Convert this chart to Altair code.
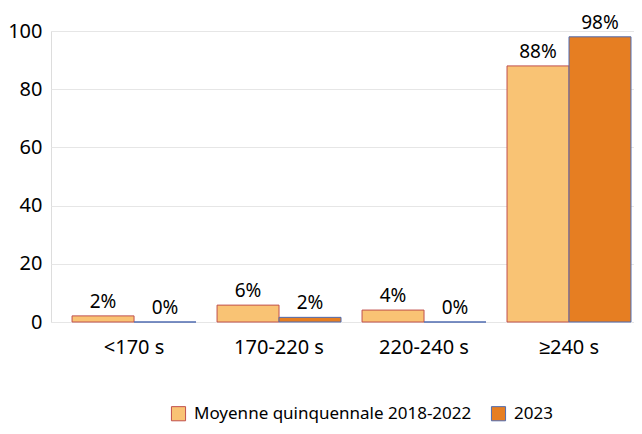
import altair as alt
import pandas as pd

categories = ["<170 s", "170-220 s", "220-240 s", "≥240 s"]
series = ["Moyenne quinquennale 2018-2022", "2023"]
avg_values = [2.1, 5.8, 4.1, 88]
y2023_values = [0.0, 1.6, 0.0, 98]
avg_labels = ["2%", "6%", "4%", "88%"]
y2023_labels = ["0%", "2%", "0%", "98%"]
fill_colors = ["#F9C374", "#E67E22"]
stroke_colors = ["#C0504D", "#4F6BB0"]

rows = []
for c, v, l in zip(categories, avg_values, avg_labels):
    rows.append({"cat": c, "series": series[0], "value": v, "label": l})
for c, v, l in zip(categories, y2023_values, y2023_labels):
    rows.append({"cat": c, "series": series[1], "value": v, "label": l})
df = pd.DataFrame(rows)

FONT = "Segoe UI, Noto Sans, sans-serif"

x = alt.X("cat:N", sort=categories, title=None,
          scale=alt.Scale(paddingInner=0.145, paddingOuter=0.083, align=0.875),
          axis=alt.Axis(labelAngle=0, ticks=False, domain=False, labelPadding=15,
                        labelFontSize=20, labelFont=FONT, labelColor="#000000"))
xo = alt.XOffset("series:N", sort=series, scale=alt.Scale(paddingInner=0, paddingOuter=0))
y = alt.Y("value:Q", title=None, scale=alt.Scale(domain=[0, 100]),
          axis=alt.Axis(values=[0, 20, 40, 60, 80, 100], ticks=False, domain=False,
                        labelPadding=9, labelFontSize=20, labelFont=FONT,
                        labelColor="#000000", gridColor="#E6E6E6"))

bars = alt.Chart(df).mark_bar(strokeWidth=1).encode(
    x=x, xOffset=xo, y=y,
    color=alt.Color("series:N", sort=series, title=None,
                    scale=alt.Scale(domain=series, range=fill_colors),
                    legend=alt.Legend(orient="none", legendX=119, legendY=374,
                                      direction="horizontal", symbolType="square",
                                      symbolSize=200, symbolStrokeWidth=1,
                                      labelFontSize=17, labelFont=FONT, labelLimit=0,
                                      labelColor="#000000", columnPadding=17,
                                      labelOffset=7)),
    stroke=alt.Stroke("series:N", sort=series,
                      scale=alt.Scale(domain=series, range=stroke_colors), legend=None),
)

text = alt.Chart(df).mark_text(baseline="alphabetic", dy=-8, fontSize=19, font=FONT,
                               color="#000000").encode(
    x=x, xOffset=xo, y=y, text="label:N")

chart = (bars + text).properties(
    width=583, height=291,
    autosize=alt.AutoSizeParams(type="none"),
    padding={"left": 43, "top": 23, "right": 0, "bottom": 104},
).configure_view(stroke=None).configure(background="#FFFFFF")

chart.save("out.html", embed_options={"renderer": "svg", "actions": False})
